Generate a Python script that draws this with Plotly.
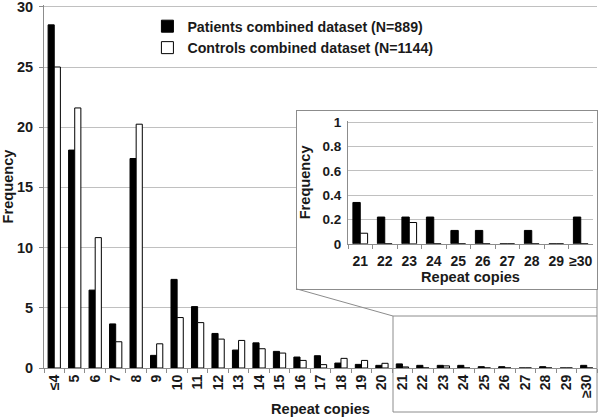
import plotly.graph_objects as go

categories = ["≤4", "5", "6", "7", "8", "9", "10", "11", "12", "13", "14", "15", "16",
              "17", "18", "19", "20", "21", "22", "23", "24", "25", "26", "27", "28", "29", "≥30"]
patients = [28.5, 18.1, 6.47, 3.66, 17.4, 1.05, 7.36, 5.10, 2.87, 1.49, 2.09, 1.38, 0.91,
            1.02, 0.41, 0.30, 0.22, 0.34, 0.22, 0.22, 0.22, 0.11, 0.11, 0.0, 0.11, 0.0, 0.22]
controls = [25.0, 21.6, 10.83, 2.18, 20.25, 2.01, 4.19, 3.77, 2.40, 2.29, 1.60, 1.24, 0.63,
            0.28, 0.80, 0.63, 0.39, 0.087, 0.0, 0.175, 0.0, 0.0, 0.0, 0.0, 0.0, 0.0, 0.0]

inset_categories = categories[17:]
inset_patients = patients[17:]
inset_controls = controls[17:]

patients_name = "Patients combined dataset (N=889)"
controls_name = "Controls combined dataset (N=1144)"

FONT = "Liberation Sans, Arial, sans-serif"
TXT = "#1a1a1a"
GRID = "#c0c0c0"
AX = "#8c8c8c"

def f(size):
    return dict(family=FONT, size=size, color=TXT, weight="bold")

# plot area: top 5px, bottom at 417-49=368px, 363px tall
H = 417
T, B = 5, 49
PH = H - T - B

def py(px):
    return (H - B - px) / PH

W = 600
L, R = 44, 3
PW = W - L - R

def pxx(px):
    return (px - L) / PW

fig = go.Figure()
fig.add_trace(go.Bar(x=categories, y=patients, name=patients_name,
                     marker=dict(color="black", line=dict(color="black", width=1))))
fig.add_trace(go.Bar(x=categories, y=controls, name=controls_name,
                     marker=dict(color="white", line=dict(color="black", width=1))))
# box subplot for the inset background/frame
fig.add_trace(go.Scatter(x=[], y=[], xaxis="x2", yaxis="y2", showlegend=False, hoverinfo="skip"))
# inset
fig.add_trace(go.Bar(x=inset_categories, y=inset_patients, xaxis="x3", yaxis="y3", showlegend=False,
                     marker=dict(color="black", line=dict(color="black", width=1))))
fig.add_trace(go.Bar(x=inset_categories, y=inset_controls, xaxis="x3", yaxis="y3", showlegend=False,
                     marker=dict(color="white", line=dict(color="black", width=1))))

fig.update_layout(
    width=W, height=H,
    margin=dict(l=L, r=R, t=T, b=B, autoexpand=False),
    paper_bgcolor="white", plot_bgcolor="white",
    font=f(14),
    barmode="group", bargap=0.4, bargroupgap=0,
    showlegend=True,
    legend=dict(x=0.187, y=0.985, xanchor="left", yanchor="top", font=f(14.2),
                bgcolor="rgba(0,0,0,0)", tracegroupgap=0),
    xaxis=dict(domain=[0, 1], type="category", tickangle=-90, tickfont=f(14), automargin=False,
               showline=True, linecolor=AX, ticks="outside", tickson="boundaries",
               ticklen=4, tickcolor=AX, showgrid=False,
               title=dict(text="Repeat copies", font=f(14.6), standoff=6)),
    yaxis=dict(domain=[0, 1], range=[0, 30.15], tickvals=[0, 5, 10, 15, 20, 25, 30],
               tickfont=f(14.5), automargin=False, ticklabeloverflow="allow",
               showline=True, linecolor=AX, ticks="outside", ticklen=4, tickcolor=AX,
               showgrid=True, gridcolor=GRID, zeroline=False, ticklabelstandoff=3,
               title=dict(text="Frequency", font=f(14.6), standoff=6)),
    xaxis2=dict(domain=[pxx(297), 1.0], anchor="y2", range=[0, 1], showline=True, mirror=True,
                automargin=False,
                linecolor=AX, showgrid=False, zeroline=False, showticklabels=False, ticks=""),
    yaxis2=dict(domain=[py(289), py(111)], anchor="x2", range=[0, 1], showline=True, mirror=True,
                automargin=False,
                linecolor=AX, showgrid=False, zeroline=False, showticklabels=False, ticks=""),
    xaxis3=dict(domain=[pxx(348), pxx(593)], anchor="y3", type="category", tickfont=f(14),
                automargin=False, ticklabelstandoff=4,
                showline=True, linecolor=AX, ticks="outside", tickson="boundaries",
                ticklen=4, tickcolor=AX, showgrid=False, tickangle=0,
                title=dict(text="Repeat copies", font=f(14.6), standoff=0)),
    yaxis3=dict(domain=[py(243.8), py(121)], anchor="x3", range=[0, 1.01], dtick=0.2, tickfont=f(13.5),
                automargin=False, ticklabelstandoff=3,
                showline=True, linecolor=AX, showgrid=True, gridcolor=GRID, zeroline=False,
                ticks="", title=dict(text="Frequency", font=f(14.6), standoff=8)),
    shapes=[
        dict(type="rect", xref="paper", yref="paper", x0=pxx(393), x1=1.0, y0=py(412), y1=py(316),
             line=dict(color=AX, width=1), fillcolor="rgba(0,0,0,0)"),
        dict(type="line", xref="paper", yref="paper", x0=pxx(297), y0=py(289), x1=pxx(393), y1=py(316),
             line=dict(color=AX, width=1)),
        dict(type="line", xref="paper", yref="paper", x0=1.0, y0=py(289), x1=1.0, y1=py(316),
             line=dict(color=AX, width=1)),
    ],
)

fig.write_html("out.html", config={"displayModeBar": False},
               post_script="document.body.style.margin='0';document.body.style.overflow='hidden';")
